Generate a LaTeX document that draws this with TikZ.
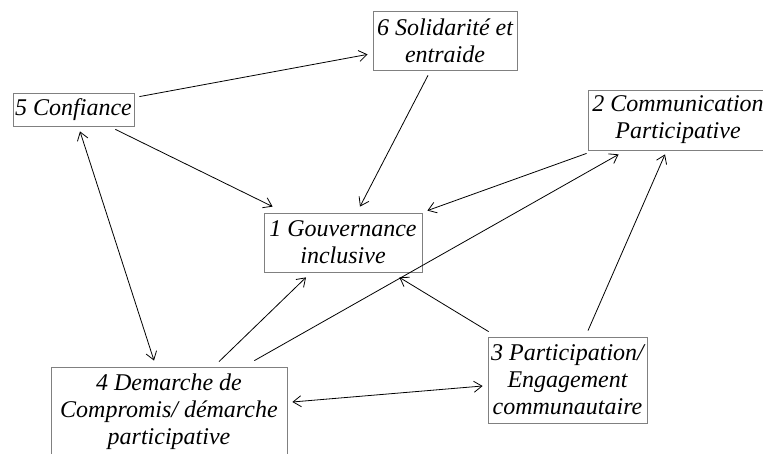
\documentclass[tikz,border=0pt]{standalone}
\usepackage{fontspec}
\setmainfont{Liberation Serif}
\usetikzlibrary{arrows.meta}
\begin{document}
\begin{tikzpicture}[x=1pt,y=1pt,
  box/.style={draw=black!50, line width=0.8pt, inner sep=0pt, align=center,
    font=\itshape\fontsize{24}{27}\selectfont},
  conn/.style={line width=0.8pt, black},
  arr/.style={conn, -{Straight Barb[length=8pt,width=11pt]}},
  darr/.style={conn, {Straight Barb[length=8pt,width=11pt]}-{Straight Barb[length=8pt,width=11pt]}}]
\useasboundingbox (0,0) rectangle (763,454);
\clip (0,0) rectangle (763,454);
% boxes (centres in px, y flipped)
\node[box, minimum width=144pt, minimum height=59pt] (n6) at (445,413.5) {6 Solidarité et\\entraide};
\node[box, minimum width=121pt, minimum height=33pt] (n5) at (73.5,344.5) {5 Confiance};
\node[box, minimum width=180pt, minimum height=60pt] (n2) at (678,334) {2 Communication\\Participative};
\node[box, minimum width=158pt, minimum height=59pt] (n1) at (343,211.5) {1 Gouvernance\\inclusive};
\node[box, minimum width=159pt, minimum height=86pt] (n3) at (567.5,74) {3 Participation/\\Engagement\\communautaire};
\node[box, minimum width=236pt, minimum height=90pt] (n4) at (169,42) {4 Demarche de\\Compromis/ démarche\\participative};
% connectors
\draw[arr] ([shift={(5,-4)}]n5.north east) -- ([shift={(-5,16)}]n6.south west);
\draw[arr] ([shift={(-19,-3)}]n5.south east) -- ([shift={(9,6)}]n1.north west);
\draw[arr] ([shift={(-17,-5)}]n6.south) -- ([shift={(17,6)}]n1.north);
\draw[darr] ([shift={(6.5,-5)}]n5.south) -- ([shift={(-15,6)}]n4.north);
\draw[arr] ([shift={(-1,-3)}]n2.south west) -- ([shift={(5,2)}]n1.north east);
\draw[arr] ([shift={(-33,6)}]n4.north east) -- ([shift={(31,-4)}]n2.south west);
\draw[arr] ([shift={(50,5)}]n4.north) -- ([shift={(-37,-5)}]n1.south);
\draw[arr] ([shift={(1,5)}]n3.north west) -- ([shift={(-23,-5)}]n1.south east);
\draw[arr] ([shift={(20.5,6)}]n3.north) -- ([shift={(-13,-4)}]n2.south);
\draw[darr] ([shift={(5,10)}]n4.east) -- ([shift={(-5,-6)}]n3.west);
\end{tikzpicture}
\end{document}
